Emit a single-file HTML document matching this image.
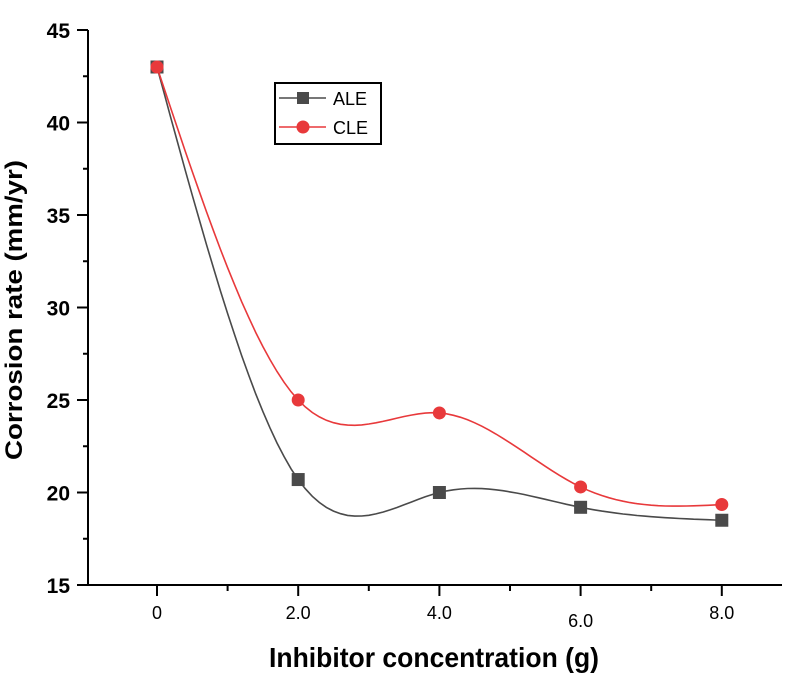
<!DOCTYPE html>
<html><head><meta charset="utf-8"><style>
body{margin:0;background:#fff;}
svg{display:block;font-family:"Liberation Sans",sans-serif;}
</style></head><body>
<svg id="chart" width="800" height="686">
<g id="axes"></g><g id="series"></g>
<text x="22" y="310" transform="rotate(-90 22 310)" text-anchor="middle" font-size="24" font-weight="bold" textLength="300" lengthAdjust="spacingAndGlyphs">Corrosion rate (mm/yr)</text>
<text x="434" y="667" text-anchor="middle" font-size="28" font-weight="bold" textLength="330" lengthAdjust="spacingAndGlyphs">Inhibitor concentration (g)</text>
<g>
<rect x="275" y="83" width="106" height="61" fill="#fff" stroke="#000" stroke-width="2"/>
<line x1="279" y1="98" x2="326" y2="98" stroke="#4a4a4a" stroke-width="1.5"/>
<rect x="297" y="92" width="12" height="12" fill="#4a4a4a"/>
<text x="333" y="105" font-size="18">ALE</text>
<line x1="279" y1="127" x2="326" y2="127" stroke="#e8393b" stroke-width="1.5"/>
<circle cx="303" cy="127" r="6.5" fill="#e8393b"/>
<text x="333" y="134" font-size="18">CLE</text>
</g>
</svg>
<script>
const categories=[0,2,4,6,8];
const xLabels=["0","2.0","4.0","6.0","8.0"];
const yTicks=[15,20,25,30,35,40,45];
const aleValues=[43,20.7,20,19.2,18.5];
const cleValues=[43,25,24.3,20.3,19.35];
const NS="http://www.w3.org/2000/svg";
const X=v=>157+(v-0)*70.6;
const Y=v=>585-(v-15)*18.5;
function mk(tag,attrs,parent){const e=document.createElementNS(NS,tag);for(const k in attrs)e.setAttribute(k,attrs[k]);parent.appendChild(e);return e;}
const axes=document.getElementById('axes');
const ax1=mk('line',{x1:88,y1:30,x2:88,y2:586,stroke:'#000','stroke-width':2},axes);


const ax2=mk('line',{x1:87,y1:585,x2:782,y2:585,stroke:'#000','stroke-width':2},axes);


yTicks.forEach((t,i)=>{
  mk('line',{x1:77,y1:Y(t),x2:88,y2:Y(t),stroke:'#000','stroke-width':2},axes);
  if(i<yTicks.length-1)mk('line',{x1:83,y1:Y(t+2.5),x2:88,y2:Y(t+2.5),stroke:'#000','stroke-width':2},axes);
  const tx=mk('text',{x:70,y:Y(t)+8,'text-anchor':'end','font-size':21,'font-weight':'bold'},axes);
  tx.textContent=t;
  
  
});
for(let v=-1;v<=9;v++){
  const major=v%2===0;
  const px=X(v); if(px<88||px>783)continue;
  mk('line',{x1:px,y1:585,x2:px,y2:major?596:591,stroke:'#000','stroke-width':2},axes);
}
categories.forEach((c,i)=>{
  const tx=mk('text',{x:X(c),y:i===3?627:619,'text-anchor':'middle','font-size':18},axes);
  tx.textContent=xLabels[i];
  
  
});
function spline(xs,ys){
  const n=xs.length,h=[],al=[],l=[1],mu=[0],z=[0],c=new Array(n).fill(0),b=[],d=[];
  for(let i=0;i<n-1;i++)h[i]=xs[i+1]-xs[i];
  for(let i=1;i<n-1;i++)al[i]=3/h[i]*(ys[i+1]-ys[i])-3/h[i-1]*(ys[i]-ys[i-1]);
  for(let i=1;i<n-1;i++){l[i]=2*(xs[i+1]-xs[i-1])-h[i-1]*mu[i-1];mu[i]=h[i]/l[i];z[i]=(al[i]-h[i-1]*z[i-1])/l[i];}
  l[n-1]=1;z[n-1]=0;
  for(let j=n-2;j>=0;j--){c[j]=z[j]-mu[j]*c[j+1];b[j]=(ys[j+1]-ys[j])/h[j]-h[j]*(c[j+1]+2*c[j])/3;d[j]=(c[j+1]-c[j])/(3*h[j]);}
  const pts=[];
  for(let j=0;j<n-1;j++)for(let s=0;s<=20;s++){const t=s/20*h[j];pts.push([X(xs[j]+t),Y(ys[j]+b[j]*t+c[j]*t*t+d[j]*t*t*t)]);}
  return pts.map((p,i)=>(i?'L':'M')+p[0].toFixed(1)+' '+p[1].toFixed(1)).join('');
}
const ser=document.getElementById('series');
[[aleValues,'#4a4a4a','ale','sq'],[cleValues,'#e8393b','cle','ci']].forEach(([vals,col,nm,shape])=>{
  const p=mk('path',{d:spline(categories,vals),fill:'none',stroke:col,'stroke-width':1.6},ser);
  
  
  vals.forEach((v,i)=>{
    let m;
    if(shape==='sq')m=mk('rect',{x:X(categories[i])-6.5,y:Y(v)-6.5,width:13,height:13,fill:col},ser);
    else m=mk('circle',{cx:X(categories[i]),cy:Y(v),r:6.5,fill:col},ser);
    
    
  });
});
</script>
</body></html>
